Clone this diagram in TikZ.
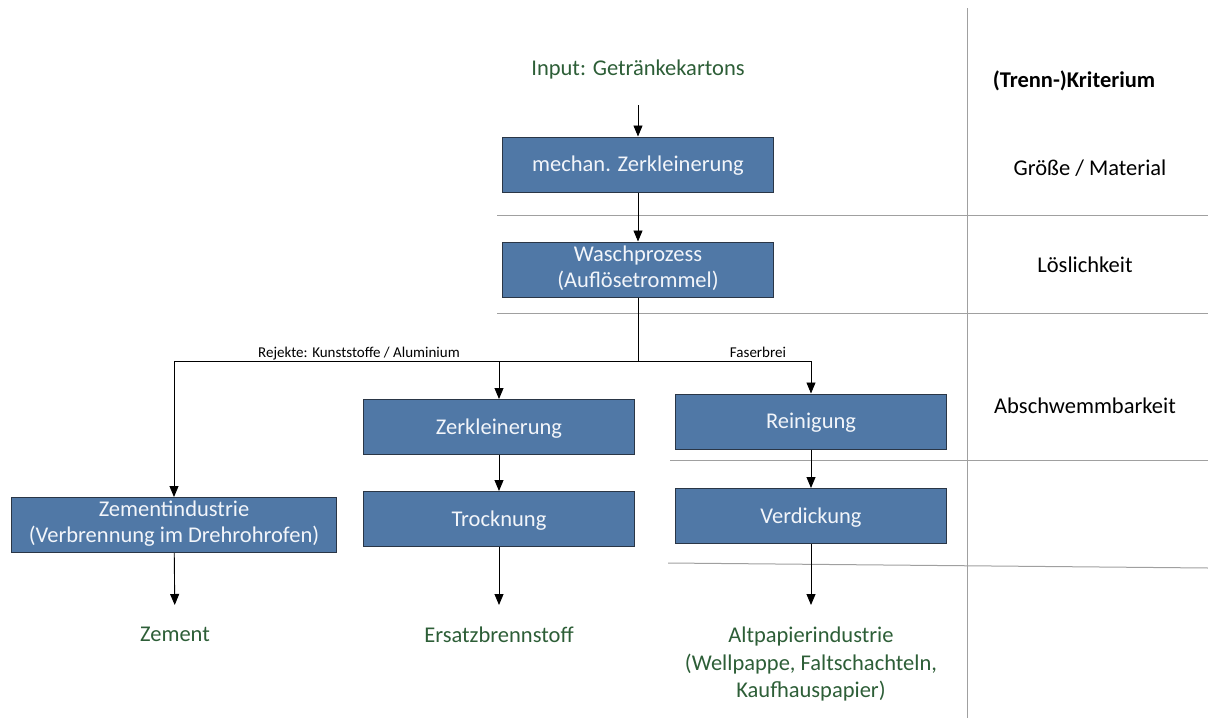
\documentclass[tikz,border=0pt]{standalone}
\usepackage{fontspec}
\setmainfont{Carlito}
\usetikzlibrary{arrows.meta,positioning}
\definecolor{boxblue}{HTML}{5078A6}
\definecolor{boxedge}{HTML}{2A3646}
\definecolor{boxtext}{HTML}{F2F5FA}
\definecolor{outgreen}{HTML}{2D5E37}
\definecolor{sepgray}{HTML}{A0A0A0}

\begin{document}
\begin{tikzpicture}[x=1pt, y=-1pt,
    every node/.style = {font=\fontsize{22.5}{26}\selectfont},
    stage/.style = {draw=boxedge, fill=boxblue, text=boxtext,
      line width=1pt, minimum width=271pt, minimum height=55pt,
      align=center, inner sep=2pt,
      execute at begin node=\rule{0pt}{20pt},
      execute at end node=\rule[-6pt]{0pt}{6pt}},
    flow/.style = {-{Triangle[length=11pt,width=9pt]}, line width=0.9pt},
    product/.style = {text=outgreen, align=center, inner sep=0pt,
      outer ysep=22pt, anchor=north},
    branch/.style = {font=\fontsize{15}{18}\selectfont, inner sep=0pt, anchor=base},
    crit/.style = {inner sep=0pt, anchor=base},
    sep/.style = {draw=sepgray, line width=1pt}]
    \useasboundingbox (0,0) rectangle (1208,720);

    % separators
    \draw[sep] (967,8) -- (967,718);
    \draw[sep] (497,215) -- (1208,215);
    \draw[sep] (497,313) -- (1208,313);
    \draw[sep] (670,460) -- (1208,460);
    \draw[sep] (668,563) -- (1208,568);

    % criteria
    \node[crit, font=\fontsize{22.5}{26}\selectfont\bfseries] (kriterium) at (1074,87) {(Trenn-)Kriterium};
    \node[crit] (groesse) at (1090,175) {Größe / Material};
    \node[crit] (loeslich) at (1085,272) {Löslichkeit};
    \node[crit] (abschwemm) at (1085,413) {Abschwemmbarkeit};

    % main flow
    \node[text=outgreen, inner sep=0pt, outer ysep=25.5pt, anchor=south] (input) at (638,105) {Input: Getränkekartons};
    \node[stage] (mech) at (638,164.5) {mechan. Zerkleinerung};
    \node[stage] (wasch) at (638,269.5) {Waschprozess\\(Auflösetrommel)};
    \coordinate (split) at (638,361);

    \node[stage, minimum width=325pt] (zemind) at (174,525) {Zementindustrie\\(Verbrennung im Drehrohrofen)};
    \node[stage] (zerkl) at (499,427) {Zerkleinerung};
    \node[stage] (trock) at (499,519) {Trocknung};
    \node[stage] (reinig) at (811,421.5) {Reinigung};
    \node[stage] (verdick) at (811,516) {Verdickung};

    \node[product] (zement) at (175,605) {Zement};
    \node[product] (ersatz) at (499,605) {Ersatzbrennstoff};
    \node[product, font=\fontsize{22.5}{27.5}\selectfont] (altpap) at (811,605) {Altpapierindustrie\\(Wellpappe, Faltschachteln,\\Kaufhauspapier)};

    \node[branch] (rejekte) at (359,357) {Rejekte: Kunststoffe / Aluminium};
    \node[branch] (faser) at (758,357) {Faserbrei};

    % connectors
    \draw[flow] (input) -- (mech);
    \draw[flow] (mech) -- (wasch);
    \draw[line width=0.9pt] (wasch) -- (split);
    \draw[flow] (split) -| (zemind);
    \draw[flow] (split) -| (reinig);
    \draw[flow] (zerkl.north |- split) -- (zerkl);
    \draw[flow] (zerkl) -- (trock);
    \draw[flow] (reinig) -- (verdick);
    \draw[flow] (zemind) -- (zement);
    \draw[flow] (trock) -- (ersatz);
    \draw[flow] (verdick) -- (altpap);
  \end{tikzpicture}
\end{document}
